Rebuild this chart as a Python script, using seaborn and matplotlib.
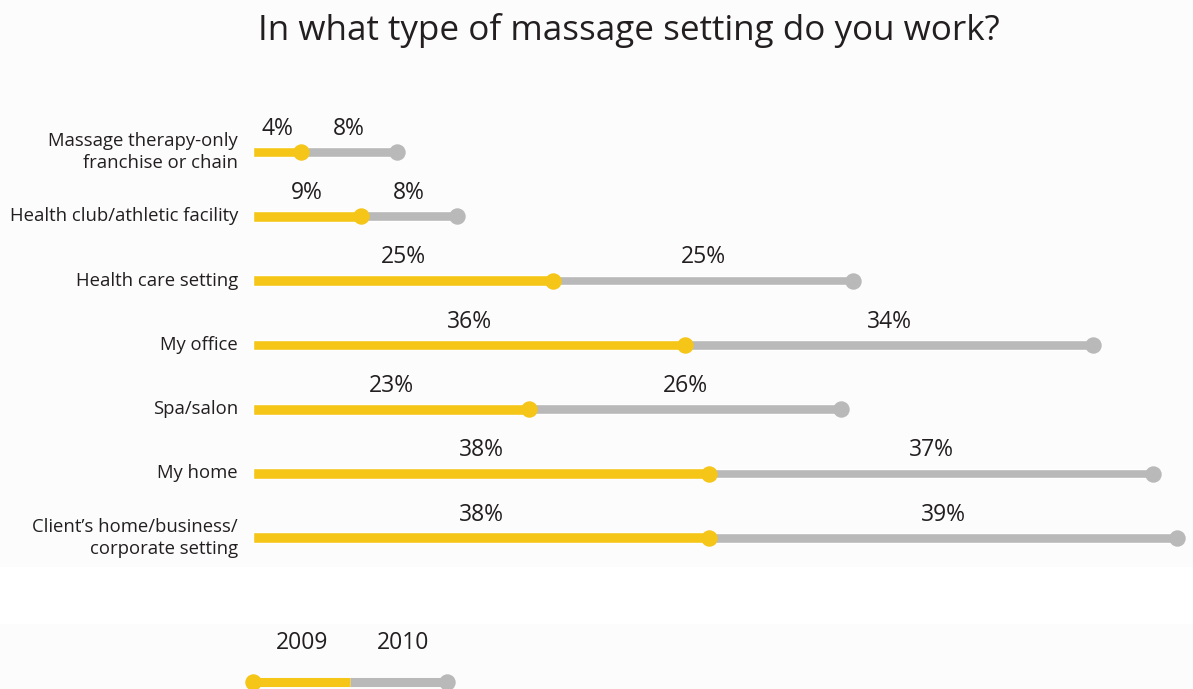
import matplotlib
matplotlib.use("Agg")
import matplotlib.pyplot as plt
import seaborn as sns
import pandas as pd
from matplotlib.patches import Rectangle

# Survey data: share of respondents per work setting
settings = [
    "Massage therapy-only\nfranchise or chain",
    "Health club/athletic facility",
    "Health care setting",
    "My office",
    "Spa/salon",
    "My home",
    "Client\u2019s home/business/\ncorporate setting",
]
pct_2009 = [4, 9, 25, 36, 23, 38, 38]
pct_2010 = [8, 8, 25, 34, 26, 37, 39]
years = ["2009", "2010"]

YELLOW = "#F5C518"
GREY = "#B9B9B9"
INK = "#231F20"

sns.set_theme(style="white")
plt.rcParams["font.family"] = ["Open Sans", "DejaVu Sans"]

df = pd.DataFrame({"setting": settings, "y2009": pct_2009, "y2010": pct_2010})
df["total"] = df["y2009"] + df["y2010"]

W, H = 1193, 689
fig = plt.figure(figsize=(W / 100, H / 100), dpi=100, facecolor="#FCFCFC")
fig.patches.append(Rectangle((0, 1 - 624 / H), 1, 57 / H, transform=fig.transFigure,
                             facecolor="white", edgecolor="none", zorder=0))
ax = fig.add_axes([0, 0, 1, 1])
ax.set_facecolor("none")

# stacked track: grey total underneath, yellow 2009 portion on top
sns.barplot(data=df, y="setting", x="total", orient="h", color=GREY,
            width=0.15, saturation=1, ax=ax, zorder=2)
sns.barplot(data=df, y="setting", x="y2009", orient="h", color=YELLOW,
            width=0.165, saturation=1, ax=ax, zorder=3)

rows = list(range(len(settings)))
sns.scatterplot(x=df["total"], y=rows, color=GREY, s=140, linewidth=0, ax=ax, zorder=4)
sns.scatterplot(x=df["y2009"], y=rows, color=YELLOW, s=140, linewidth=0, ax=ax, zorder=5)

for i, (a, b) in enumerate(zip(pct_2009, pct_2010)):
    ax.text(a / 2, i - 0.36, f"{a}%", ha="center", va="center", fontsize=16.5, color=INK)
    ax.text(a + b / 2, i - 0.36, f"{b}%", ha="center", va="center", fontsize=16.5, color=INK)
    ax.text(-1.25, i, settings[i], ha="right", va="center", fontsize=13.3,
            color=INK, linespacing=1.25)

# legend track
leg_y = 8.24
ax.plot([0, 8.1], [leg_y, leg_y], color=YELLOW, lw=6.5, solid_capstyle="butt", zorder=3)
ax.plot([8.1, 16.2], [leg_y, leg_y], color=GREY, lw=6.5, solid_capstyle="butt", zorder=2)
ax.scatter([0], [leg_y], color=YELLOW, s=140, linewidth=0, zorder=5)
ax.scatter([16.2], [leg_y], color=GREY, s=140, linewidth=0, zorder=4)
ax.text(4.05, 7.64, years[0], ha="center", va="center", fontsize=16.5, color=INK)
ax.text(12.5, 7.64, years[1], ha="center", va="center", fontsize=16.5, color=INK)

fig.text(0.5275, 1 - 31 / H, "In what type of massage setting do you work?",
         ha="center", va="center", fontsize=25.2, color=INK)

ax.set_xlim(-253 / 12, (W - 253) / 12)
ax.set_ylim((H - 152) / 64.3, -152 / 64.3)
ax.set_axis_off()
legend = ax.get_legend()
if legend:
    legend.remove()

fig.savefig("out.png", dpi=100, facecolor=fig.get_facecolor())
